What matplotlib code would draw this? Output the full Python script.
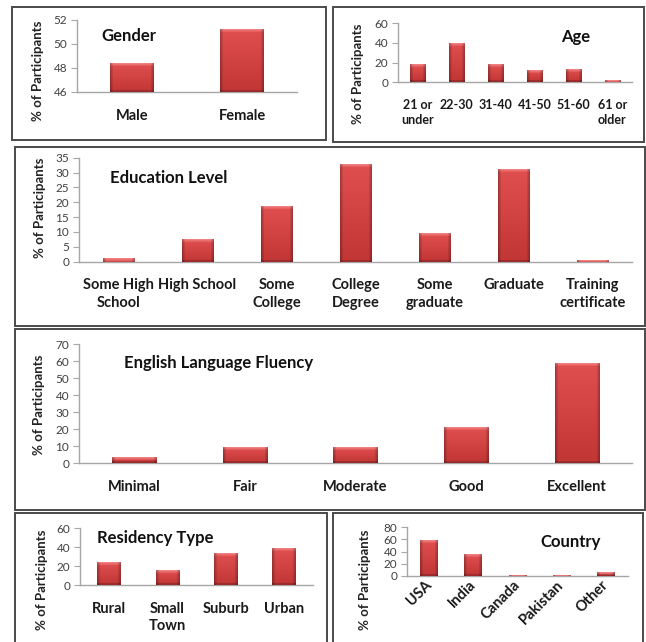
import numpy as np
import matplotlib
matplotlib.use('Agg')
import matplotlib.pyplot as plt
from matplotlib.patches import Rectangle

plt.rcParams['font.family'] = ['Lato', 'DejaVu Sans']

# Datos de las encuestas (% de participantes)
gender_labels = ['Male', 'Female']
gender_pct = [48.4, 51.2]

age_labels = ['21 or\nunder', '22-30', '31-40', '41-50', '51-60', '61 or\nolder']
age_pct = [17.3, 39.0, 17.3, 12.2, 12.9, 2.0]

edu_labels = ['Some High\nSchool', 'High School', 'Some\nCollege', 'College\nDegree',
              'Some\ngraduate', 'Graduate', 'Training\ncertificate']
edu_pct = [1.1, 7.5, 18.6, 32.8, 9.5, 31.2, 0.6]

eng_labels = ['Minimal', 'Fair', 'Moderate', 'Good', 'Excellent']
eng_pct = [3.3, 9.2, 9.2, 20.6, 58.6]

res_labels = ['Rural', 'Small\nTown', 'Suburb', 'Urban']
res_pct = [23.5, 15.1, 33.3, 38.6]

country_labels = ['USA', 'India', 'Canada', 'Pakistan', 'Other']
country_pct = [58.2, 34.8, 1.5, 1.5, 6.0]

W, H = 646, 642
fig = plt.figure(figsize=(W / 100, H / 100), dpi=100)
fig.patch.set_facecolor('white')


def panel(x0, x1, ytop, ybot):
    return fig.add_axes([x0 / W, 1 - ybot / H, (x1 - x0) / W, (ybot - ytop) / H])


def frame(x0, x1, ytop, ybot):
    fig.add_artist(Rectangle((x0 / W, 1 - ybot / H), (x1 - x0) / W, (ybot - ytop) / H,
                             transform=fig.transFigure, fill=False,
                             ec='#4a4a4a', lw=1.4))


def shade_bars(ax, bars):
    # Relleno con degradado para dar el aspecto biselado
    ylo = ax.get_ylim()[0]
    for b in bars:
        x0, w = b.get_x(), b.get_width()
        y0 = max(b.get_y(), ylo)
        y1 = b.get_y() + b.get_height()
        (p0, q0), (p1, q1) = ax.transData.transform([(x0, y0), (x0 + w, y1)])
        nw = max(int(round(p1 - p0)), 2)
        nh = max(int(round(q1 - q0)), 2)
        t = np.linspace(0, 1, nh)[:, None]
        top = np.array([0.88, 0.31, 0.31])
        bot = np.array([0.76, 0.21, 0.21])
        img = top * (1 - t[..., None]) + bot * t[..., None]
        img = np.repeat(img, nw, axis=1)
        # franja clara arriba
        hl = np.array([0.95, 0.50, 0.50])
        for r in range(min(3, nh)):
            a = 1 - r / 3
            img[r] = img[r] * (1 - a) + hl * a
        # bordes laterales y base más oscuros
        cols = np.arange(nw)
        edge = np.minimum(cols, nw - 1 - cols)
        f = np.where(edge < 3, 0.74 + 0.08 * edge, 1.0)
        img = img * f[None, :, None]
        if nh > 3:
            img[-2:] *= 0.82
        ax.imshow(np.clip(img, 0, 1), extent=[x0, x0 + w, y0, y1], aspect='auto',
                  origin='upper', zorder=3, interpolation='bilinear')
        b.set_alpha(0)


def bar_panel(rect, labels, values, ylim, step, title, title_xy, ylabel_xy,
              rotate=False, tick_fs=10.5):
    ax = panel(*rect)
    x = np.arange(len(labels))
    ax.set_xlim(-0.5, len(labels) - 0.5)
    ax.set_ylim(*ylim)
    bars = ax.bar(x, values, width=0.4, color='#d04040', zorder=2)
    shade_bars(ax, bars)
    ax.set_xlim(-0.5, len(labels) - 0.5)
    ax.set_ylim(*ylim)
    ax.set_yticks(np.arange(ylim[0], ylim[1] + 0.01, step))
    ax.set_xticks(x)
    ax.set_xticklabels(labels, fontsize=tick_fs, fontweight='bold', color='#1a1a1a',
                       linespacing=1.3)
    for s in ['top', 'right']:
        ax.spines[s].set_visible(False)
    for s in ['left', 'bottom']:
        ax.spines[s].set_color('#a6a6a6')
        ax.spines[s].set_linewidth(1)
    ax.tick_params(axis='y', labelsize=8.5, labelcolor='#404040', color='#a6a6a6',
                   length=4, pad=3)
    ax.tick_params(axis='x', length=0, pad=12)
    if rotate:
        ax.tick_params(axis='x', pad=5)
        plt.setp(ax.get_xticklabels(), rotation=45, ha='right', va='center',
                 rotation_mode='anchor')
    ax.set_facecolor('none')
    fig.text(title_xy[0] / W, 1 - title_xy[1] / H, title, fontsize=12,
             fontweight='bold', ha='left', va='center', color='#111111')
    fig.text(ylabel_xy[0] / W, 1 - ylabel_xy[1] / H, '% of Participants',
             fontsize=9.5, fontweight='bold', rotation=90, ha='center',
             va='center', color='#222222')
    return ax


# Marcos de cada panel
frame(12, 326, 7, 140)
frame(333, 644, 7, 142)
frame(15, 645, 147, 326)
frame(15, 645, 329, 510)
frame(15, 327, 513, 645)
frame(333, 643, 513, 645)

bar_panel((77, 297, 20, 92), gender_labels, gender_pct, (46, 52), 2,
          'Gender', (101, 36), (38, 71))
bar_panel((398, 632, 23.3, 82.3), age_labels, age_pct, (0, 60), 20,
          'Age', (561, 37), (358, 74), tick_fs=9)
bar_panel((79, 632, 157.7, 261.7), edu_labels, edu_pct, (0, 35), 5,
          'Education Level', (110, 178), (40, 208))
bar_panel((79, 632, 344.3, 463.3), eng_labels, eng_pct, (0, 70), 10,
          'English Language Fluency', (124, 363), (39, 405))
bar_panel((80, 313, 528.3, 585), res_labels, res_pct, (0, 60), 20,
          'Residency Type', (97, 538), (42, 580))
bar_panel((407, 628, 527, 576), country_labels, country_pct, (0, 80), 20,
          'Country', (540, 542), (365, 580), rotate=True)

plt.savefig('out.png', dpi=100)
